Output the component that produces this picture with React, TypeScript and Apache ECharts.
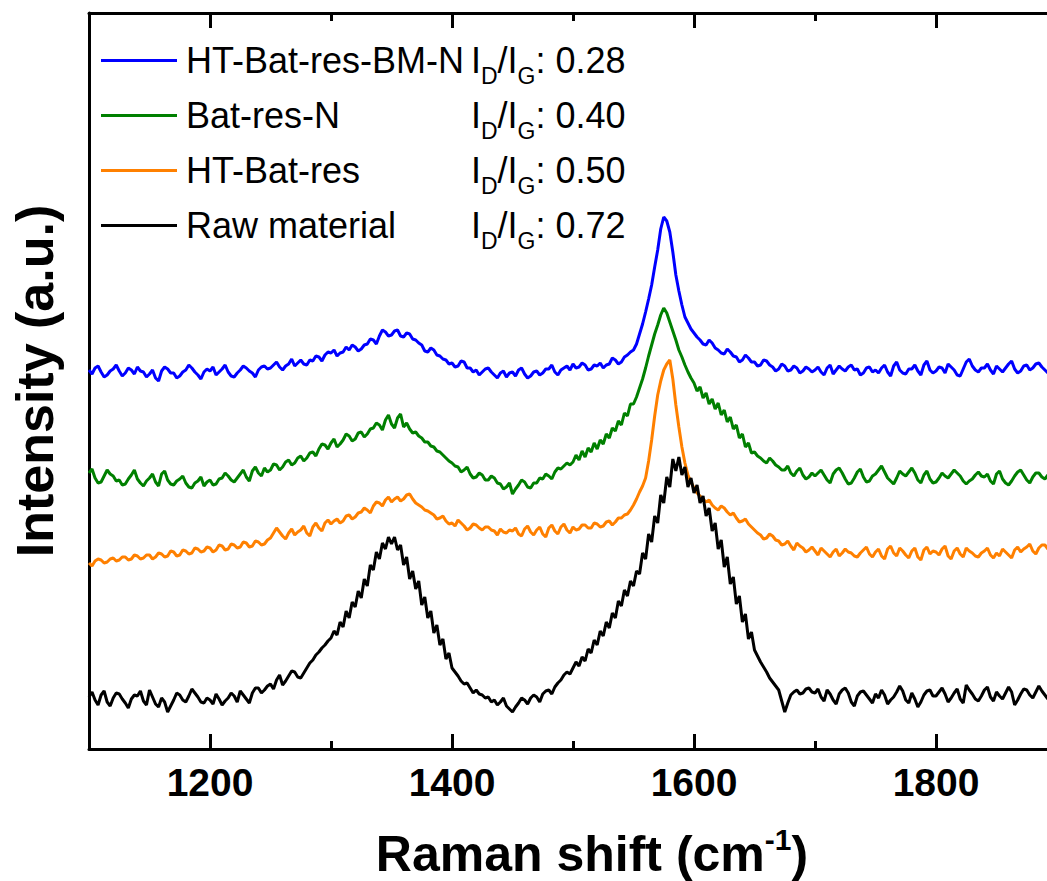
import React, { useEffect, useRef } from 'react';
import * as echarts from 'echarts';

// Raman shift sampling (cm^-1): 1100 .. 1897.5 every 2.5 cm^-1
const SHIFT_START = 1100;
const SHIFT_STEP = 2.5;

const seriesNames = ['HT-Bat-res-BM-N', 'Bat-res-N', 'HT-Bat-res', 'Raw material'];
const idIgRatios = ['0.28', '0.40', '0.50', '0.72'];
const seriesColors = ['#0000FF', '#008000', '#FF8000', '#000000'];

// Intensity (a.u., offset-stacked); each row spans 50 cm^-1
const htBatResBmN = [
  379, 375, 381, 383, 377, 372, 374, 378, 380, 384, 378, 373, 376, 381, 379, 375, 382, 378, 377, 372,
  375, 379, 371, 368, 378, 382, 380, 376, 376, 371, 373, 377, 379, 384, 381, 377, 374, 370, 377, 380,
  378, 382, 374, 377, 380, 384, 377, 373, 372, 376, 379, 383, 381, 378, 376, 372, 379, 382, 383, 380,
  381, 384, 387, 382, 379, 383, 385, 390, 383, 386, 389, 385, 384, 389, 388, 393, 392, 388, 394, 397,
  396, 399, 393, 396, 397, 402, 399, 404, 402, 398, 400, 404, 405, 410, 409, 405, 413, 419, 417, 413,
  414, 418, 419, 413, 412, 416, 415, 410, 409, 406, 404, 398, 397, 401, 399, 394, 393, 390, 389, 385,
  386, 382, 383, 388, 387, 381, 381, 377, 379, 374, 377, 380, 381, 377, 374, 371, 376, 378, 372, 376,
  377, 373, 379, 381, 375, 371, 373, 377, 378, 374, 376, 380, 380, 384, 377, 374, 379, 381, 383, 379,
  385, 381, 382, 386, 384, 379, 380, 384, 383, 386, 381, 384, 385, 391, 389, 385, 387, 392, 394, 397,
  399, 405, 415, 425, 437, 450, 464, 482, 499, 520, 532, 528, 517, 497, 474, 458, 444, 432, 426, 420,
  416, 412, 409, 405, 404, 409, 406, 401, 399, 396, 395, 400, 397, 393, 392, 387, 389, 394, 391, 387,
  387, 383, 384, 389, 388, 384, 382, 378, 380, 385, 383, 378, 379, 383, 381, 376, 378, 382, 380, 377,
  379, 382, 377, 374, 381, 384, 375, 379, 383, 380, 378, 382, 384, 379, 380, 374, 376, 381, 382, 377,
  379, 376, 381, 384, 377, 373, 383, 387, 379, 376, 375, 380, 380, 384, 378, 374, 384, 388, 379, 376,
  378, 382, 381, 376, 385, 382, 379, 374, 373, 380, 387, 390, 383, 379, 377, 381, 381, 385, 379, 375,
  383, 380, 377, 381, 385, 388, 380, 376, 378, 383, 384, 379, 381, 385, 386, 382, 379, 376, 383, 380,
];

const batResN = [
  276, 280, 271, 266, 267, 273, 279, 275, 273, 268, 269, 264, 265, 270, 274, 279, 270, 266, 263, 268,
  271, 275, 267, 263, 275, 278, 269, 265, 264, 268, 270, 273, 266, 262, 261, 266, 268, 272, 263, 267,
  269, 264, 265, 270, 271, 276, 273, 269, 267, 271, 275, 279, 272, 268, 278, 282, 276, 273, 281, 277,
  279, 285, 284, 279, 282, 287, 289, 284, 286, 291, 293, 288, 291, 296, 297, 293, 300, 305, 304, 300,
  306, 310, 302, 305, 309, 315, 313, 308, 310, 316, 317, 312, 315, 320, 321, 326, 324, 319, 329, 334,
  325, 321, 331, 335, 322, 326, 320, 316, 317, 313, 311, 307, 307, 303, 302, 298, 297, 294, 291, 288,
  286, 283, 282, 277, 279, 282, 275, 271, 272, 276, 274, 269, 269, 273, 271, 266, 265, 260, 262, 266,
  255, 260, 264, 269, 267, 262, 261, 266, 266, 271, 270, 275, 273, 270, 277, 281, 280, 283, 286, 284,
  287, 294, 289, 298, 292, 301, 297, 306, 300, 309, 305, 315, 311, 321, 318, 328, 324, 336, 333, 345,
  345, 352, 361, 370, 381, 393, 404, 415, 424, 434, 441, 436, 427, 418, 409, 399, 392, 384, 377, 371,
  366, 358, 362, 351, 356, 345, 350, 340, 346, 334, 339, 327, 332, 320, 324, 311, 315, 302, 306, 296,
  297, 293, 291, 288, 286, 291, 288, 284, 282, 279, 279, 283, 276, 273, 278, 281, 274, 270, 272, 276,
  273, 276, 279, 274, 269, 266, 275, 279, 281, 276, 270, 265, 266, 271, 277, 280, 272, 267, 268, 273,
  275, 279, 283, 277, 271, 268, 265, 271, 278, 275, 273, 277, 281, 276, 269, 266, 274, 278, 270, 266,
  267, 271, 276, 273, 271, 275, 279, 276, 273, 268, 265, 268, 270, 274, 277, 273, 272, 275, 268, 265,
  275, 278, 270, 266, 264, 268, 273, 277, 279, 274, 269, 266, 272, 276, 276, 272, 270, 274, 273, 270,
];

const htBatRes = [
  186, 183, 188, 190, 189, 186, 187, 190, 191, 188, 189, 192, 192, 189, 190, 194, 193, 190, 191, 194,
  194, 190, 192, 196, 195, 192, 193, 198, 197, 193, 194, 199, 198, 195, 196, 201, 200, 197, 198, 202,
  201, 197, 199, 204, 203, 199, 200, 205, 204, 201, 202, 207, 206, 202, 203, 208, 207, 204, 205, 209,
  211, 216, 221, 217, 213, 210, 216, 220, 214, 217, 219, 223, 216, 213, 222, 226, 221, 218, 226, 229,
  225, 228, 230, 226, 228, 233, 234, 230, 232, 236, 237, 241, 239, 236, 243, 247, 246, 243, 249, 252,
  247, 250, 252, 248, 250, 254, 255, 250, 246, 244, 242, 239, 238, 236, 234, 230, 231, 233, 228, 225,
  226, 223, 229, 226, 223, 219, 221, 225, 224, 221, 219, 222, 222, 219, 218, 214, 220, 217, 216, 219,
  218, 221, 215, 213, 220, 223, 217, 214, 219, 222, 215, 212, 221, 224, 218, 215, 222, 225, 219, 216,
  222, 219, 220, 224, 224, 221, 221, 226, 225, 222, 223, 227, 228, 224, 227, 231, 231, 234, 235, 239,
  244, 250, 257, 263, 271, 288, 309, 333, 354, 368, 379, 385, 389, 370, 344, 322, 302, 286, 274, 267,
  261, 256, 253, 250, 247, 249, 244, 241, 239, 243, 241, 237, 234, 236, 231, 227, 228, 230, 225, 222,
  219, 216, 214, 210, 211, 215, 213, 209, 208, 204, 205, 208, 203, 199, 206, 203, 201, 197, 199, 202,
  198, 194, 201, 198, 195, 192, 197, 200, 193, 196, 200, 197, 196, 193, 192, 196, 199, 202, 195, 192,
  197, 200, 193, 190, 200, 203, 196, 193, 201, 198, 194, 191, 198, 201, 192, 189, 199, 202, 195, 198,
  197, 194, 200, 203, 193, 190, 198, 201, 195, 192, 201, 198, 196, 193, 192, 196, 198, 201, 194, 191,
  196, 193, 200, 197, 194, 191, 199, 202, 197, 200, 202, 205, 198, 195, 201, 204, 204, 200, 200, 203,
];

const rawMaterial = [
  52, 57, 49, 44, 54, 58, 47, 43, 51, 56, 55, 50, 46, 41, 50, 54, 53, 58, 48, 44,
  59, 52, 45, 42, 51, 47, 37, 43, 49, 56, 54, 49, 47, 53, 60, 56, 52, 47, 46, 51,
  49, 45, 55, 50, 44, 48, 51, 56, 53, 47, 58, 54, 50, 46, 56, 61, 61, 56, 59, 63,
  65, 60, 69, 74, 64, 68, 73, 78, 77, 72, 71, 76, 81, 86, 89, 94, 97, 101, 104, 108,
  111, 118, 114, 127, 122, 138, 131, 147, 142, 158, 151, 170, 163, 184, 179, 197, 190, 206, 200, 212,
  205, 212, 199, 204, 184, 192, 170, 178, 160, 168, 144, 152, 131, 138, 116, 124, 104, 110, 90, 96,
  81, 77, 73, 68, 65, 66, 61, 56, 59, 55, 54, 51, 52, 47, 49, 44, 47, 51, 43, 40,
  37, 42, 46, 51, 49, 45, 51, 54, 52, 47, 55, 58, 59, 55, 62, 66, 69, 74, 77, 75,
  81, 87, 83, 92, 88, 100, 96, 109, 104, 118, 113, 127, 121, 136, 131, 148, 143, 159, 153, 168,
  163, 178, 175, 196, 190, 215, 207, 233, 226, 254, 246, 272, 262, 290, 278, 292, 274, 282, 262, 271,
  256, 264, 246, 253, 233, 241, 218, 226, 200, 209, 182, 192, 165, 172, 145, 153, 127, 135, 110, 117,
  99, 93, 87, 82, 77, 71, 67, 63, 59, 48, 37, 46, 54, 57, 59, 55, 56, 60, 61, 57,
  56, 60, 52, 48, 59, 55, 49, 45, 55, 59, 61, 56, 47, 43, 53, 57, 58, 54, 50, 46,
  55, 51, 59, 54, 45, 49, 52, 57, 63, 58, 49, 46, 56, 50, 42, 47, 54, 58, 59, 53,
  53, 57, 61, 55, 47, 51, 56, 60, 50, 46, 64, 59, 55, 50, 48, 53, 59, 62, 52, 48,
  57, 53, 50, 56, 62, 57, 44, 49, 55, 60, 59, 54, 51, 57, 63, 58, 54, 50, 58, 61,
];

const seriesValues = [htBatResBmN, batResN, htBatRes, rawMaterial];

const FONT = '"Liberation Sans", Arial, Helvetica, sans-serif';

export default function App() {
  const ref = useRef<HTMLDivElement>(null);

  useEffect(() => {
    if (!ref.current) return;
    const chart = echarts.init(ref.current, undefined, { renderer: 'svg' });

    const lineStyle = { color: '#000', width: 3 };
    const axisLine = { show: true, onZero: false, lineStyle };
    // grid 0 holds the data (1100-1900); grid 1 is the same plot extended 100 cm^-1
    // to the left so its 200-step ticks land on 1200, 1400, ...
    const PX_PER_UNIT = 968 / 800;
    const leftMain = 89;
    const leftAux = leftMain - 100 * PX_PER_UNIT;
    const gridBase = { right: -10, top: 13, bottom: 132, containLabel: false, outerBoundsMode: 'none' };

    const option: any = {
      animation: false,
      backgroundColor: '#ffffff',
      grid: [
        { ...gridBase, left: leftMain },
        { ...gridBase, left: leftAux },
      ],
      xAxis: [
        {
          type: 'value', gridIndex: 0, position: 'bottom', min: 1100, max: 1900, interval: 200,
          axisLine, splitLine: { show: false }, axisLabel: { show: false },
          axisTick: { show: true, inside: true, length: 8, lineStyle },
          name: '{a|Raman shift (cm}{s|-1}{a|)}',
          nameLocation: 'middle',
          nameGap: 80,
          nameTextStyle: {
            padding: [0, 0, 0, 38],
            rich: {
              a: { fontSize: 50, fontWeight: 'bold', fontFamily: FONT, color: '#000', lineHeight: 50 },
              s: { fontSize: 30, fontWeight: 'bold', fontFamily: FONT, color: '#000', lineHeight: 20, padding: [0, 0, 30, 0] },
            },
          },
        },
        {
          type: 'value', gridIndex: 0, position: 'top', min: 1100, max: 1900, interval: 200,
          axisLine, splitLine: { show: false }, axisLabel: { show: false },
          axisTick: { show: true, inside: true, length: 8, lineStyle },
        },
        {
          type: 'value', gridIndex: 1, position: 'bottom', min: 1000, max: 1900, interval: 200,
          axisLine: { show: false }, splitLine: { show: false },
          axisTick: { show: true, inside: true, length: 15, lineStyle },
          axisLabel: {
            show: true,
            margin: 14,
            fontSize: 39,
            fontWeight: 'bold',
            fontFamily: FONT,
            color: '#000',
            formatter: (v: number) => (v >= 1100 && v <= 1850 ? String(v) : ''),
          },
        },
        {
          type: 'value', gridIndex: 1, position: 'top', min: 1000, max: 1900, interval: 200,
          axisLine: { show: false }, splitLine: { show: false }, axisLabel: { show: false },
          axisTick: { show: true, inside: true, length: 15, lineStyle },
        },
      ],
      yAxis: [
        {
          type: 'value', gridIndex: 0, min: 0, max: 736, position: 'left',
          axisLine, axisTick: { show: false }, axisLabel: { show: false }, splitLine: { show: false },
          name: 'Intensity (a.u.)',
          nameLocation: 'middle',
          nameGap: 28,
          nameTextStyle: { fontSize: 52, fontWeight: 'bold', fontFamily: FONT, color: '#000', lineHeight: 52 },
        },
        { type: 'value', gridIndex: 1, min: 0, max: 736, show: false },
      ],
      legend: {
        show: true,
        orient: 'vertical',
        left: 96,
        top: 29,
        icon: 'rect',
        itemWidth: 76,
        itemHeight: 3,
        itemGap: 2,
        selectedMode: false,
        data: seriesNames,
        formatter: (name: string) => {
          const i = seriesNames.indexOf(name);
          return `{n|${name}}{m|I}{s|D}{m|/I}{s|G}{m|: ${idIgRatios[i]}}`;
        },
        textStyle: {
          color: '#000',
          fontFamily: FONT,
          fontSize: 36,
          rich: {
            n: { fontSize: 36, fontFamily: FONT, color: '#000', lineHeight: 42, width: 285, padding: [0, 0, 0, 4] },
            m: { fontSize: 36, fontFamily: FONT, color: '#000', lineHeight: 42 },
            s: { fontSize: 23, fontFamily: FONT, color: '#000', lineHeight: 26, padding: [30, 0, 0, 0] },
          },
        },
      },
      series: seriesNames.map((name, k) => ({
        name,
        type: 'line',
        xAxisIndex: 0,
        yAxisIndex: 0,
        symbol: 'none',
        showSymbol: false,
        clip: true,
        color: seriesColors[k],
        lineStyle: { color: seriesColors[k], width: 3 },
        data: seriesValues[k].map((v, i) => [SHIFT_START + i * SHIFT_STEP, v]),
      })),
    };

    chart.setOption(option);
    return () => chart.dispose();
  }, []);

  return (
    <div
      ref={ref}
      style={{ position: 'absolute', left: 0, top: 0, width: 1047, height: 881, background: '#fff' }}
    />
  );
}
